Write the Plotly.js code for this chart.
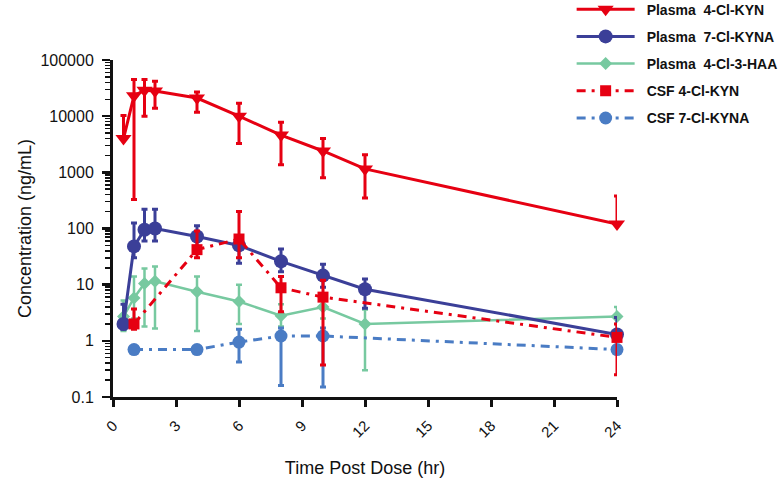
<!DOCTYPE html>
<html>
<head>
<meta charset="utf-8">
<script src="https://cdn.plot.ly/plotly-3.0.1.min.js"></script>
<style>html,body{margin:0;padding:0;background:#fff;}#chart{width:780px;height:482px;}</style>
</head>
<body>
<div id="chart"></div>
<script>
// ---- data ----
const timeP = [0.5, 1, 1.5, 2, 4, 6, 8, 10, 12, 24];
const timeC = [1, 4, 6, 8, 10, 24];

const plasma4ClKYN    = [4000, 23000, 29000, 28000, 21000, 10000, 4600, 2400, 1150, 120];
const plasma4ClKYNHi  = [10300, 45000, 45000, 42000, 27000, 17000, 7800, 4000, 2050, 380];
const plasma4ClKYNLo  = [4000, 330, 10000, 13800, 11700, 3250, 1370, 800, 350, 120];

const plasma7ClKYNA   = [2, 48, 95, 100, 72, 50, 26, 14.5, 8.3, 1.3];
const plasma7ClKYNAHi = [4.5, 125, 220, 220, 112, 72, 43, 23, 12.6, 2.6];
const plasma7ClKYNALo = [1.6, 30, 60, 60, 45, 24, 17, 9, 3.8, 1.0];

const plasmaHAA   = [2.7, 5.8, 10.5, 11.5, 7.5, 5, 2.8, 4, 2, 2.7];
const plasmaHAAHi = [5.2, 14, 19.5, 21, 14, 10, 4.5, 6, 3.6, 4];
const plasmaHAALo = [1.5, 2.5, 1.8, 1.65, 1.5, 2, 1.8, 2.5, 0.3, 2];

const csf4ClKYN   = [2, 42, 65, 8.8, 6, 1.15];
const csf4ClKYNHi = [3.7, 90, 200, 14, 12, 2.0];
const csf4ClKYNLo = [1.6, 30, 30, 3.3, 0.37, 0.25];

const csf7ClKYNA   = [0.7, 0.7, 0.95, 1.22, 1.22, 0.7];
const csf7ClKYNAHi = [0.8, 0.8, 1.6, 1.7, 1.7, 0.8];
const csf7ClKYNALo = [0.6, 0.6, 0.42, 0.16, 0.15, 0.6];

const xTicks = [0, 3, 6, 9, 12, 15, 18, 21, 24];
const yTickVals = [0.1, 1, 10, 100, 1000, 10000, 100000];
const yTickText = ['0.1', '1', '10', '100', '1000', '10000', '100000'];

const names = ['\u2002Plasma\u00a0 4-Cl-KYN', '\u2002Plasma\u00a0 7-Cl-KYNA', '\u2002Plasma\u00a0 4-Cl-3-HAA', '\u2002CSF 4-Cl-KYN', '\u2002CSF 7-Cl-KYNA'];

// ---- helpers ----
const plus  = (v, hi) => v.map((d, i) => Math.max(hi[i] - d, 0));
const minus = (v, lo) => v.map((d, i) => Math.max(d - lo[i], 0));

const RED = '#e60012', DBLUE = '#3b3f98', GREEN = '#77c9a0', LBLUE = '#4a7cc4';
const DASHDOT = '9px,6px,3px,6px';

function trace(x, y, hi, lo, name, color, sym, size, width, dash, rank, ew) {
  return {
    x: x, y: y, name: name, type: 'scatter', mode: 'lines+markers', cliponaxis: false,
    legendgroup: 'g' + rank, legendrank: rank,
    line: {color: color, width: width, dash: dash},
    marker: {color: color, symbol: sym, size: size},
    error_y: {type: 'data', symmetric: false, array: plus(y, hi), arrayminus: minus(y, lo),
              color: color, thickness: ew, width: 3}
  };
}

const data = [
  trace(timeP, plasmaHAA, plasmaHAAHi, plasmaHAALo, names[2], GREEN, 'diamond', 10, 2.5, 'solid', 3, 2.5),
  trace(timeC, csf7ClKYNA, csf7ClKYNAHi, csf7ClKYNALo, names[4], LBLUE, 'circle', 13, 3, DASHDOT, 5, 3),
  trace(timeP, plasma7ClKYNA, plasma7ClKYNAHi, plasma7ClKYNALo, names[1], DBLUE, 'circle', 14, 3, 'solid', 2, 3),
  trace(timeC, csf4ClKYN, csf4ClKYNHi, csf4ClKYNLo, names[3], RED, 'square', 11, 3, DASHDOT, 4, 3),
  trace(timeP, plasma4ClKYN, plasma4ClKYNHi, plasma4ClKYNLo, names[0], RED, 'triangle-down', 14, 3, 'solid', 1, 3)
];

const layout = {
  width: 780, height: 482,
  margin: {l: 113, r: 163, t: 60, b: 85, autoexpand: false},
  paper_bgcolor: '#fff', plot_bgcolor: '#fff',
  font: {family: 'Liberation Sans, Arial, sans-serif', color: '#111'},
  showlegend: true,
  legend: {x: 0.91, y: 1.197, xanchor: 'left', yanchor: 'top',
           tracegroupgap: 6, itemwidth: 58, bgcolor: 'rgba(0,0,0,0)',
           font: {family: 'Liberation Sans, Arial, sans-serif', size: 14, color: '#111', weight: 'bold'}},
  xaxis: {
    range: [0, 24], tickmode: 'array', tickvals: xTicks, ticktext: xTicks.map(String),
    tickangle: -45, ticks: 'outside', ticklen: 7, tickwidth: 3, tickcolor: '#111',
    showline: true, linewidth: 3, linecolor: '#111', showgrid: false, zeroline: false,
    tickfont: {size: 15, color: '#111'}, ticklabelstandoff: 4,
    title: {text: 'Time Post Dose (hr)', font: {size: 18, color: '#111'}, standoff: 22}
  },
  yaxis: {
    type: 'log', range: [-1, 5], tickmode: 'array', tickvals: yTickVals, ticktext: yTickText,
    ticks: 'outside', ticklen: 8, tickwidth: 2.5, tickcolor: '#111',
    showline: true, linewidth: 3, linecolor: '#111', showgrid: false, zeroline: false,
    tickfont: {size: 16, color: '#111'}, ticklabelstandoff: 5,
    minor: {dtick: 'D1', ticks: 'outside', ticklen: 5, tickwidth: 1.5, tickcolor: '#111', showgrid: false},
    title: {text: 'Concentration (ng/mL)', font: {size: 18, color: '#111'}, standoff: 5}
  }
};

Plotly.newPlot('chart', data, layout, {displayModeBar: false, staticPlot: true});
</script>
</body>
</html>
